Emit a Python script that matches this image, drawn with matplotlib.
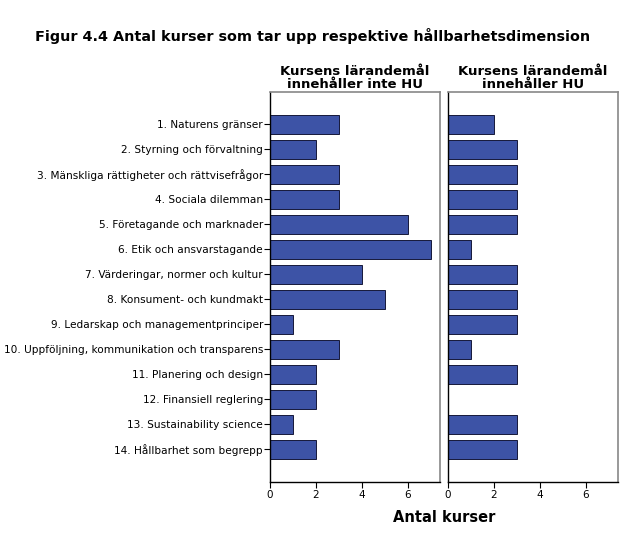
import numpy as np
import matplotlib.pyplot as plt

# kategorier och antal kurser per panel
kategorier = [
    '1. Naturens gränser',
    '2. Styrning och förvaltning',
    '3. Mänskliga rättigheter och rättvisefrågor',
    '4. Sociala dilemman',
    '5. Företagande och marknader',
    '6. Etik och ansvarstagande',
    '7. Värderingar, normer och kultur',
    '8. Konsument- och kundmakt',
    '9. Ledarskap och managementprinciper',
    '10. Uppföljning, kommunikation och transparens',
    '11. Planering och design',
    '12. Finansiell reglering',
    '13. Sustainability science',
    '14. Hållbarhet som begrepp',
]
inte_hu = [3, 2, 3, 3, 6, 7, 4, 5, 1, 3, 2, 2, 1, 2]
med_hu = [2, 3, 3, 3, 3, 1, 3, 3, 3, 1, 3, 0, 3, 3]
paneltitlar = ['Kursens lärandemål\ninnehåller inte HU', 'Kursens lärandemål\ninnehåller HU']
xticks = [0, 2, 4, 6]

bar_color = '#3d53a6'
fig = plt.figure(figsize=(6.26, 5.41), dpi=100)

y = np.arange(1, len(kategorier) + 1)
ax1 = fig.add_axes([270 / 626, 59 / 541, 170 / 626, 390 / 541])
ax2 = fig.add_axes([448 / 626, 59 / 541, 170 / 626, 390 / 541])

for ax, vals, titel in [(ax1, inte_hu, paneltitlar[0]), (ax2, med_hu, paneltitlar[1])]:
    ax.barh(y, vals, height=0.76, color=bar_color, edgecolor='#15183a', linewidth=0.7)
    ax.set_xlim(0, 7.4)
    ax.set_ylim(15.3, -0.3)
    ax.set_xticks(xticks)
    ax.tick_params(axis='x', labelsize=7.5, length=4, width=0.8, pad=2)
    for s in ['top', 'right']:
        ax.spines[s].set_color('#888888')
        ax.spines[s].set_linewidth(1.2)
    for s in ['left', 'bottom']:
        ax.spines[s].set_color('black')
        ax.spines[s].set_linewidth(1.0)
    ax.set_title(titel, fontsize=9.5, fontweight='bold', linespacing=0.95, pad=3)

ax1.set_yticks(y)
ax1.set_yticklabels(kategorier, fontsize=7.6)
ax1.tick_params(axis='y', length=4, width=0.8, pad=1)
ax2.set_yticks([])

fig.text(0.5, 1 - 36 / 541, 'Figur 4.4 Antal kurser som tar upp respektive hållbarhetsdimension',
         ha='center', va='center', fontsize=10.4, fontweight='bold')
fig.text(444 / 626, 1 - 518 / 541, 'Antal kurser', ha='center', va='center',
         fontsize=10.5, fontweight='bold')

plt.savefig('out.png', dpi=100)
